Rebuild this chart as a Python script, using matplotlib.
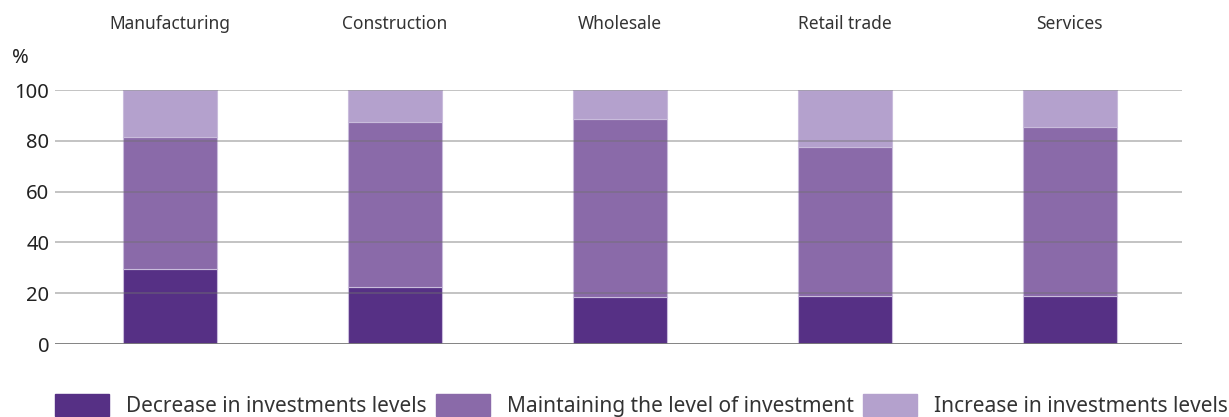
import matplotlib

matplotlib.use("Agg")
import matplotlib.pyplot as plt
import numpy as np
from matplotlib.patches import Patch

sectors = ["Manufacturing", "Construction", "Wholesale", "Retail trade", "Services"]
decrease = [29.4, 22.3, 18.6, 18.9, 18.9]
maintain = [52.0, 65.1, 70.1, 58.5, 66.4]
increase = [18.6, 12.6, 11.3, 22.6, 14.7]
series_names = [
    "Decrease in investments levels",
    "Maintaining the level of investment",
    "Increase in investments levels",
]
y_ticks = [0, 20, 40, 60, 80, 100]

colors = ["#563085", "#8a6aa9", "#b4a1cd"]
edge = "#c9bcdc"

plt.rcParams["font.family"] = ["Noto Sans", "DejaVu Sans"]

fig = plt.figure(figsize=(12.29, 4.17), dpi=100)
ax = fig.add_axes([0.0448, 0.175, 0.9170, 0.609])

x = np.arange(len(sectors))
width = 0.418
bottom = np.zeros(len(sectors))
for vals, col in zip([decrease, maintain, increase], colors):
    ax.bar(x, vals, width, bottom=bottom, color=col, edgecolor=edge,
           linewidth=0.8, zorder=2)
    bottom += np.asarray(vals)

for t in y_ticks:
    if t == 0:
        ax.axhline(t, color="#7a7a7a", linewidth=1.3, zorder=3)
    else:
        ax.axhline(t, color="#707070", alpha=0.45, linewidth=1.3, zorder=3)

ax.set_xlim(-0.51, 4.5)
ax.set_ylim(0, 100)
ax.set_yticks(y_ticks)
ax.set_xticks(x)
ax.set_xticklabels(sectors)
ax.tick_params(axis="x", top=False, labeltop=True, bottom=False, labelbottom=False,
               length=0, pad=41, labelsize=12.5, labelcolor="#333333")
ax.tick_params(axis="y", length=0, pad=4, labelsize=14.5, labelcolor="#222222")
for s in ax.spines.values():
    s.set_visible(False)

fig.text(0.0098, 0.862, "%", fontsize=14.5, color="#222222", va="center", ha="left")

handles = [Patch(facecolor=c, edgecolor=c) for c in colors]
fig.legend(handles, series_names, loc="lower left", bbox_to_anchor=(0.0448, 0.0),
           ncol=3, frameon=False, fontsize=15, handlelength=2.6, handleheight=1.25,
           handletextpad=0.8, columnspacing=0.45, labelcolor="#333333",
           borderaxespad=0, borderpad=0)

fig.savefig("out.png", dpi=100)
